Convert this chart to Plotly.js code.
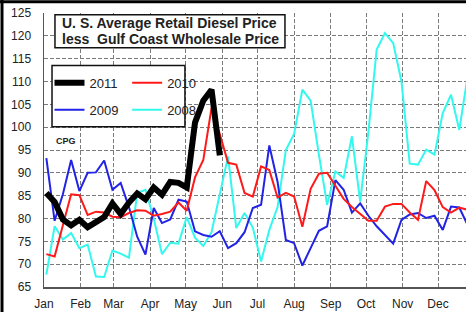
<!DOCTYPE html>
<html>
<head>
<meta charset="utf-8">
<script src="https://cdn.plot.ly/plotly-3.0.1.min.js"></script>
<style>
  html, body { margin: 0; padding: 0; background: #fff; }
  #chart { width: 466px; height: 312px; }
</style>
</head>
<body>
<div id="chart"></div>
<script>
// Month tick labels and the day of year each month starts
const monthLabels = ['Jan','Feb','Mar','Apr','May','Jun','Jul','Aug','Sep','Oct','Nov','Dec'];
const monthStartDays = [0,31,59,90,120,151,181,212,243,273,304,334];

// Weekly margin (cents per gallon), first week starting in early January
const firstDay = 2;
const y2011 = [85.6, 83.6, 79.8, 78.5, 79.7, 78.1, 79.2, 80.3, 83.3, 81.0, 83.5, 85.5, 84.2, 86.8, 85.2, 88.0, 87.8, 86.8, 101.0, 105.8, 108.2, 93.8];
const y2010 = [72.2, 71.7, 78.5, 85.3, 85.1, 80.8, 81.5, 81.3, 80.4, 80.3, 81.2, 81.8, 81.7, 80.6, 81.0, 81.5, 83.5, 81.7, 89.0, 92.8, 104.2, 98.5, 92.2, 91.8, 85.6, 84.8, 91.4, 90.6, 84.6, 85.6, 84.8, 78.2, 86.5, 89.8, 90.0, 87.0, 84.3, 82.5, 81.0, 79.5, 79.5, 82.6, 83.2, 83.2, 81.3, 79.7, 88.2, 86.2, 82.5, 81.3, 82.4, 81.9];
const y2009 = [93.2, 79.5, 85.3, 92.8, 86.0, 90.0, 90.1, 92.7, 86.3, 87.8, 82.5, 76.0, 72.1, 82.3, 79.0, 79.8, 84.1, 83.7, 77.2, 76.4, 76.0, 77.2, 73.5, 74.6, 77.0, 82.3, 83.0, 96.0, 88.0, 75.3, 74.6, 69.7, 73.5, 77.3, 78.3, 88.4, 86.3, 81.3, 83.3, 80.6, 78.3, 76.4, 74.5, 79.7, 80.9, 81.2, 80.1, 80.6, 77.5, 82.6, 82.4, 78.6];
const y2008 = [67.7, 78.3, 75.4, 76.8, 73.5, 74.3, 67.3, 67.2, 73.0, 72.3, 71.4, 85.6, 86.3, 80.0, 72.2, 74.7, 74.5, 80.3, 75.8, 74.0, 77.0, 85.0, 93.6, 77.9, 81.2, 78.0, 70.6, 77.5, 82.5, 95.0, 98.5, 108.2, 105.8, 94.0, 83.0, 90.3, 88.9, 98.0, 83.7, 99.0, 117.0, 120.6, 118.4, 110.0, 92.0, 91.8, 95.1, 94.0, 103.1, 107.1, 99.4, 111.0];

const yTicks = [65,70,75,80,85,90,95,100,105,110,115,120,125];

function weeks(arr) { return arr.map((_, k) => (firstDay + 7 * k) / 7); }

const FONT = 'Liberation Sans, Arial, sans-serif';

const series = [
  { name: '2008', y: y2008, color: '#33f8ee', width: 2, legend: 'legend2', group: 'd', rank: 4 },
  { name: '2009', y: y2009, color: '#2222e6', width: 2, legend: 'legend', group: 'b', rank: 2 },
  { name: '2010', y: y2010, color: '#ff1a1a', width: 2, legend: 'legend2', group: 'c', rank: 3 },
  { name: '2011', y: y2011, color: '#000000', width: 6, legend: 'legend', group: 'a', rank: 1 }
];
const traces = series.map(s => ({
  type: 'scatter', mode: 'lines', name: s.name,
  x: weeks(s.y), y: s.y,
  line: { color: s.color, width: s.width },
  legend: s.legend, legendgroup: s.group, legendrank: s.rank,
  hoverinfo: 'skip'
}));

const legendCommon = {
  bgcolor: 'rgba(0,0,0,0)', borderwidth: 0,
  font: { family: FONT, size: 13, color: '#222' },
  xanchor: 'left', yanchor: 'top', tracegroupgap: 7,
  traceorder: 'grouped', itemwidth: 30
};

const layout = {
  width: 466, height: 312,
  margin: { l: 44, r: 0, t: 13, b: 25, pad: 0 },
  paper_bgcolor: '#ffffff', plot_bgcolor: '#ffffff',
  showlegend: true,
  xaxis: {
    range: [0, 51.1],
    tickmode: 'array',
    tickvals: monthStartDays.map(d => d / 7),
    ticktext: monthLabels,
    showgrid: true, gridcolor: '#7a7a7a', griddash: '4px,2px', gridwidth: 1,
    showline: true, linecolor: '#555', linewidth: 1.5,
    ticks: '', ticklabelstandoff: 5,
    tickfont: { family: FONT, size: 12, color: '#222' },
    zeroline: false, fixedrange: true
  },
  yaxis: {
    range: [65, 125],
    tickmode: 'array', tickvals: yTicks,
    showgrid: true, gridcolor: '#7a7a7a', griddash: '4px,2px', gridwidth: 1,
    showline: true, linecolor: '#555', linewidth: 1.5,
    ticks: '', ticklabelstandoff: 9,
    tickfont: { family: FONT, size: 12, color: '#222' },
    zeroline: false, fixedrange: true
  },
  legend: Object.assign({}, legendCommon, { x: 0.013, y: 0.80 }),
  legend2: Object.assign({}, legendCommon, { x: 0.197, y: 0.80 }),
  shapes: [
    // legend box
    { type: 'rect', xref: 'paper', yref: 'paper', x0: 0.019, x1: 0.334, y0: 0.585, y1: 0.808,
      fillcolor: '#ffffff', line: { color: '#111', width: 1.5 }, layer: 'above' },
    // title box
    { type: 'rect', xref: 'paper', yref: 'paper', x0: 0.026, x1: 0.571, y0: 0.873, y1: 0.994,
      fillcolor: '#ffffff', line: { color: '#111', width: 1.5 }, layer: 'above' },
    // outer frame (top and left)
    { type: 'line', xref: 'paper', yref: 'paper', x0: -0.11, x1: 1.01, y0: 1.041, y1: 1.041,
      line: { color: '#000', width: 3 }, layer: 'above' },
    { type: 'line', xref: 'paper', yref: 'paper', x0: -0.0995, x1: -0.0995, y0: 1.05, y1: -0.1,
      line: { color: '#000', width: 3 }, layer: 'above' }
  ],
  annotations: [
    { xref: 'paper', yref: 'paper', x: 0.038, y: 0.965, xanchor: 'left', yanchor: 'middle',
      text: 'U. S. Average Retail Diesel Price', showarrow: false,
      font: { family: FONT, size: 14, color: '#222', weight: 'bold' } },
    { xref: 'paper', yref: 'paper', x: 0.038, y: 0.904, xanchor: 'left', yanchor: 'middle',
      text: 'less\u00a0 Gulf Coast Wholesale Price', showarrow: false,
      font: { family: FONT, size: 14, color: '#222', weight: 'bold' } },
    { xref: 'paper', yref: 'paper', x: 0.0237, y: 0.534, xanchor: 'left', yanchor: 'middle',
      text: 'CPG', showarrow: false,
      font: { family: FONT, size: 9, color: '#222', weight: 'bold' } }
  ]
};

Plotly.newPlot('chart', traces, layout, { staticPlot: true, displayModeBar: false });
</script>
</body>
</html>
